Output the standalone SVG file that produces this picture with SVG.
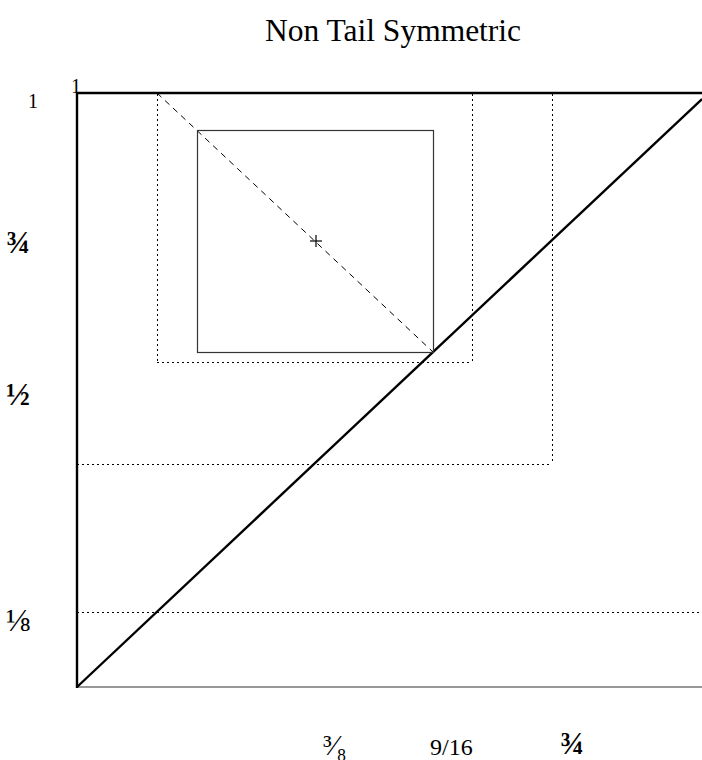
<svg xmlns="http://www.w3.org/2000/svg" width="702" height="760" viewBox="0 0 702 760">
<style>
text{font-family:"Liberation Serif","DejaVu Serif",serif;fill:#000}
.fr{font-size:32px}
.b{font-weight:bold}
.axis{stroke:#000;stroke-width:2.4;fill:none}
.dot{stroke:#000;stroke-width:1;stroke-dasharray:2 3;fill:none}
.dash{stroke:#000;stroke-width:1;stroke-dasharray:6 5;fill:none}
.thin{stroke:#333;stroke-width:1.2;fill:none}
</style>
<rect width="702" height="760" fill="#fff"/>
<text x="393" y="41" text-anchor="middle" font-size="31.5">Non Tail Symmetric</text>
<g id="connectors">
<line class="dot" x1="157.5" y1="94" x2="157.5" y2="362"/>
<line class="dot" x1="157" y1="362.5" x2="472" y2="362.5"/>
<line class="dot" x1="472.5" y1="94" x2="472.5" y2="362"/>
<line class="dot" x1="552.5" y1="94" x2="552.5" y2="464"/>
<line class="dot" x1="77" y1="464.5" x2="552" y2="464.5"/>
<line class="dot" x1="77" y1="612.5" x2="702" y2="612.5"/>
<line class="dash" x1="157" y1="93" x2="433" y2="352"/>
<line class="thin" x1="77" y1="687" x2="702" y2="687"/>
<line class="axis" x1="77" y1="93" x2="702" y2="93"/>
<line class="axis" x1="77" y1="92" x2="77" y2="688"/>
<line class="axis" x1="77" y1="687" x2="702" y2="99"/>
</g>
<g id="box"><rect class="thin" x="197.5" y="130.5" width="236" height="222"/></g>
<g id="center"><line stroke="#000" stroke-width="1.2" x1="310" y1="241" x2="322" y2="241"/><line stroke="#000" stroke-width="1.2" x1="316" y1="235" x2="316" y2="247"/></g>
<g id="labels">
<text x="71" y="93" font-size="20">1</text>
<text x="28" y="108" font-size="20">1</text>
<text x="6" y="253" class="fr b">¾</text>
<text x="6" y="405" class="fr b">½</text>
<text x="6" y="631" class="fr">⅛</text>
<text x="323" y="755" font-size="29">³⁄₈</text>
<text x="430" y="755" font-size="24">9/16</text>
<text x="560" y="754" class="fr b">¾</text>
</g>
</svg>
